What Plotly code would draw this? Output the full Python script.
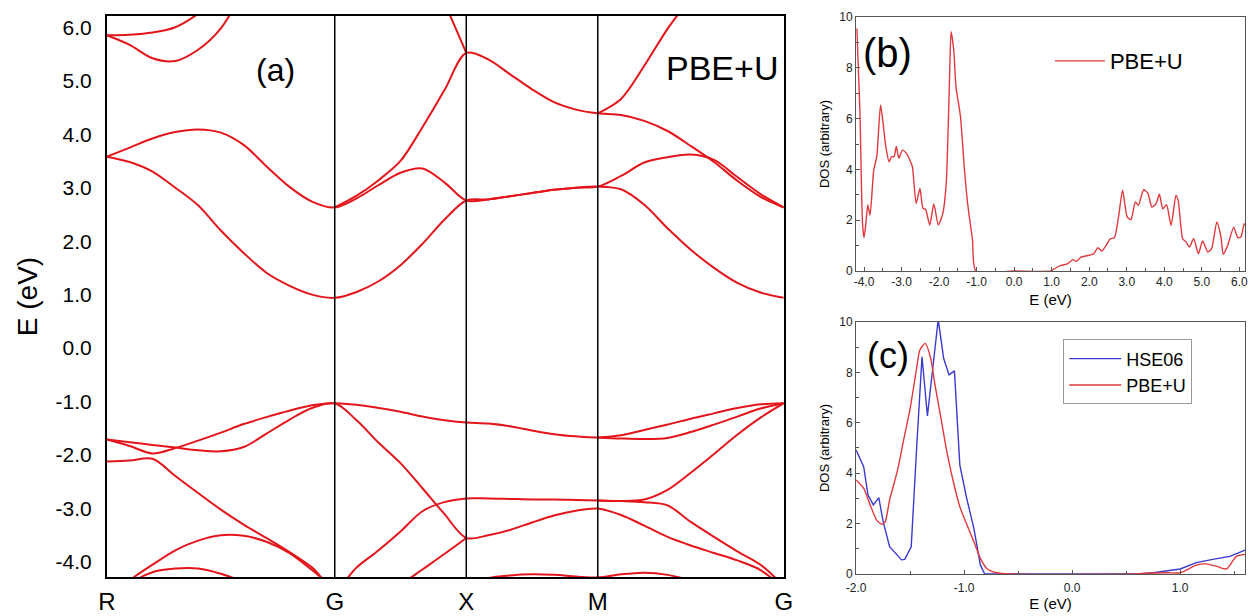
import plotly.graph_objects as go

# ---------------- Panel (a): band structure ----------------
K_POINTS = [0.0, 0.866, 1.366, 1.866, 2.573]
K_LABELS = ["R", "G", "X", "M", "G"]
E_TICKS_A = [6, 5, 4, 3, 2, 1, 0, -1, -2, -3, -4]
E_LABELS_A = ["6.0", "5.0", "4.0", "3.0", "2.0", "1.0", "0.0", "-1.0", "-2.0", "-3.0", "-4.0"]

# k sample positions along R-G-X-M-G (31 samples)
K_GRID = [0.0, 0.0866, 0.1732, 0.2598, 0.3464, 0.433, 0.5196, 0.6062, 0.6928, 0.7794, 0.866,
          0.9493, 1.0327, 1.116, 1.1993, 1.2827, 1.366,
          1.4493, 1.5327, 1.616, 1.6993, 1.7827, 1.866,
          1.9544, 2.0428, 2.1312, 2.2195, 2.3079, 2.3963, 2.4847, 2.573]

N = None
CB1 = [3.58, 3.48, 3.30, 3.00, 2.67, 2.20, 1.78, 1.41, 1.17, 1.00, 0.94,
       1.05, 1.25, 1.55, 1.95, 2.40, 2.76,
       2.78, 2.84, 2.90, 2.96, 3.00, 3.02,
       2.97, 2.68, 2.24, 1.84, 1.50, 1.22, 1.04, 0.94]
CB2 = [3.58, 3.75, 3.92, 4.04, 4.09, 4.03, 3.80, 3.40, 3.02, 2.74, 2.63,
       2.80, 3.05, 3.28, 3.36, 3.10, 2.76,
       2.78, 2.84, 2.90, 2.96, 3.00, 3.02,
       3.22, 3.47, 3.57, 3.62, 3.52, 3.20, 2.88, 2.63]
CB3 = [N, N, N, N, N, N, N, N, N, N, 2.63,
       2.85, 3.14, 3.50, 4.13, 4.82, 5.52,
       5.40, 5.12, 4.84, 4.60, 4.46, 4.39,
       4.36, 4.25, 4.06, 3.78, 3.48, 3.13, 2.83, 2.63]
CB4 = [N] * 22 + [4.39, 4.66, 5.28, 5.97, 6.55, N, N, N, N]
CB5 = [N] * 14 + [7.40, 6.47, 5.52] + [N] * 14
CB6 = [5.85, 5.86, 5.90, 6.00, 6.25, 6.60] + [N] * 25
CB7 = [5.85, 5.67, 5.42, 5.37, 5.58, 5.98, 6.70] + [N] * 24

VB1 = [-1.71, -1.83, -1.97, -1.87, -1.73, -1.58, -1.42, -1.29, -1.17, -1.07, -1.03,
       -1.06, -1.12, -1.19, -1.28, -1.35, -1.39,
       -1.41, -1.46, -1.54, -1.61, -1.65, -1.67,
       -1.63, -1.53, -1.43, -1.32, -1.22, -1.12, -1.05, -1.03]
VB1B = [N] * 22 + [-1.67, -1.69, -1.70, -1.68, -1.57, -1.43, -1.28, -1.13, -1.03]
VB2 = [-1.71, -1.76, -1.81, -1.86, -1.91, -1.93, -1.85, -1.60, -1.34, -1.12, -1.03,
       -1.35, -1.77, -2.15, -2.62, -3.10, -3.55,
       -3.50, -3.40, -3.26, -3.13, -3.04, -3.00,
       -3.12, -3.32, -3.53, -3.69, -3.83, -3.97, -4.15, -4.50]
VB3 = [-2.12, -2.10, -2.07, -2.39, -2.71, -3.02, -3.30, -3.55, -3.81, -4.10, -4.50,
       -4.10, -3.78, -3.43, -3.05, -2.88, -2.81,
       -2.81, -2.82, -2.83, -2.83, -2.84, -2.85,
       -2.86, -2.83, -2.65, -2.33, -1.98, -1.62, -1.30, -1.03]
VB4 = [N] * 22 + [-2.85, -2.86, -2.88, -2.94, -3.25, -3.53, -3.80, -4.05, -4.45]
VB5 = [-4.90, -4.35, -4.05, -3.78, -3.60, -3.50, -3.51, -3.62, -3.83, -4.15, -4.50] + [N] * 20
VB6 = [-4.90, -4.42, -4.19, -4.12, -4.12, -4.22, -4.38, -4.70] + [N] * 23
VB7 = [N] * 12 + [-4.75, -4.43, -4.14, -3.85, -3.55] + [N] * 14
VB8 = [N] * 16 + [-4.45, -4.30, -4.25, -4.23, -4.24, -4.27, -4.29,
                  -4.23, -4.20, -4.24, -4.35, -4.55, N, N, N]

BANDS = [CB1, CB2, CB3, CB4, CB5, CB6, CB7, VB1, VB1B, VB2, VB3, VB4, VB5, VB6, VB7, VB8]

# ---------------- Panel (b): PBE+U DOS ----------------
E_TICKS_B = [-4, -3, -2, -1, 0, 1, 2, 3, 4, 5, 6]
E_LABELS_B = ["-4.0", "-3.0", "-2.0", "-1.0", "0.0", "1.0", "2.0", "3.0", "4.0", "5.0", "6.0"]
E_B = [-4.19, -4.11, -4.04, -4.00, -3.95, -3.90, -3.84, -3.74, -3.66, -3.56, -3.49, -3.42,
       -3.33, -3.27, -3.20, -3.14, -3.07, -2.98, -2.87, -2.76, -2.71, -2.61, -2.51, -2.43,
       -2.36, -2.25, -2.14, -2.02, -1.90, -1.81, -1.72, -1.68, -1.61, -1.55, -1.43, -1.33,
       -1.24, -1.11, -1.02, 0.00, 0.98, 1.07, 1.25, 1.43, 1.56, 1.65, 1.78, 1.87, 2.00,
       2.12, 2.23, 2.33, 2.45, 2.56, 2.67, 2.78, 2.89, 3.01, 3.11, 3.23, 3.31, 3.45, 3.56,
       3.67, 3.78, 3.87, 3.96, 4.06, 4.18, 4.31, 4.37, 4.49, 4.58, 4.67, 4.78, 4.91, 5.02,
       5.16, 5.26, 5.40, 5.51, 5.57, 5.69, 5.85, 5.96, 6.04, 6.13, 6.22]
DOS_B = [9.55, 6.34, 1.88, 1.31, 1.88, 2.60, 2.20, 3.98, 4.50, 6.54, 5.80, 4.90,
         4.30, 4.50, 4.50, 4.90, 4.44, 4.76, 4.63, 4.30, 4.10, 2.66, 3.25, 2.47,
         2.43, 1.81, 2.64, 1.81, 2.27, 3.45, 7.65, 9.42, 8.70, 7.26, 6.08, 4.10,
         2.66, 1.22, 0.00, 0.00, 0.00, 0.09, 0.22, 0.29, 0.45, 0.38, 0.55, 0.58, 0.62,
         0.68, 0.92, 0.79, 1.01, 1.27, 1.31, 2.13, 3.18, 2.13, 2.02, 2.72, 2.59, 3.20, 3.07,
         2.52, 2.65, 3.02, 2.45, 2.61, 1.80, 2.98, 2.78, 1.27, 1.14, 0.94, 1.27, 0.68, 1.18,
         0.75, 0.88, 1.93, 1.34, 0.66, 1.01, 1.73, 1.31, 1.34, 1.86, 1.60]

# ---------------- Panel (c): HSE06 vs PBE+U ----------------
E_TICKS_C = [-2, -1, 0, 1]
E_LABELS_C = ["-2.0", "-1.0", "0.0", "1.0"]
E_HSE = [-2.00, -1.93, -1.89, -1.84, -1.79, -1.75, -1.69, -1.62, -1.58, -1.55, -1.49, -1.44,
         -1.39, -1.34, -1.29, -1.24, -1.19, -1.14, -1.09, -1.04, -0.98, -0.91, -0.85, -0.81,
         0.60, 0.75, 1.00, 1.15, 1.30, 1.46, 1.60]
DOS_HSE = [4.92, 4.26, 3.13, 2.74, 3.03, 2.08, 1.08, 0.75, 0.56, 0.58, 1.08, 4.99,
           8.62, 6.27, 8.29, 10.1, 8.56, 7.90, 8.06, 4.33, 3.07, 1.81, 0.36, 0.00,
           0.00, 0.05, 0.20, 0.45, 0.58, 0.70, 0.95]
E_PBE = [-2.00, -1.93, -1.87, -1.81, -1.76, -1.73, -1.69, -1.62, -1.56, -1.50, -1.44, -1.41,
         -1.36, -1.31, -1.27, -1.22, -1.16, -1.10, -1.04, -0.98, -0.91, -0.85, -0.79, -0.70,
         -0.57, 0.60, 0.70, 0.88, 1.00, 1.15, 1.24, 1.34, 1.43, 1.52, 1.60]
DOS_PBE = [3.73, 3.40, 2.74, 2.14, 1.97, 2.08, 2.94, 4.06, 5.32, 6.57, 8.16, 8.89,
           9.15, 8.56, 7.50, 6.31, 4.85, 3.66, 2.67, 2.01, 1.28, 0.62, 0.22, 0.05,
           0.00, 0.00, 0.03, 0.05, 0.05, 0.35, 0.40, 0.30, 0.20, 0.70, 0.78]

BAND_RED = "#e3151b"
DOS_RED = "#e0383c"
HSE_BLUE = "#3a3ad0"

fig = go.Figure()

for band in BANDS:
    fig.add_trace(go.Scatter(x=K_GRID, y=band, mode="lines", xaxis="x", yaxis="y",
                             line=dict(color=BAND_RED, width=2, shape="spline", smoothing=0.9),
                             showlegend=False, hoverinfo="skip"))

fig.add_trace(go.Scatter(x=E_B, y=DOS_B, mode="lines", name="PBE+U", xaxis="x2", yaxis="y2",
                         line=dict(color=DOS_RED, width=1.4, shape="spline", smoothing=0.6),
                         legend="legend"))
fig.add_trace(go.Scatter(x=E_HSE, y=DOS_HSE, mode="lines", name="HSE06", xaxis="x3", yaxis="y3",
                         line=dict(color=HSE_BLUE, width=1.4), legend="legend2"))
fig.add_trace(go.Scatter(x=E_PBE, y=DOS_PBE, mode="lines", name="PBE+U", xaxis="x3", yaxis="y3",
                         line=dict(color=DOS_RED, width=1.4, shape="spline", smoothing=0.6),
                         legend="legend2"))

shapes = [dict(type="line", x0=kv, x1=kv, y0=0, y1=1, xref="x", yref="y domain",
               line=dict(color="black", width=1.5)) for kv in K_POINTS[1:4]]

FONT = "Liberation Sans, Arial, sans-serif"
small_axis = dict(showline=True, mirror=True, linecolor="#555", linewidth=1,
                  ticks="inside", ticklen=4, tickcolor="#555", showgrid=False, zeroline=False,
                  tickfont=dict(size=12, color="#222", family=FONT), automargin=False,
                  ticklabeloverflow="allow")

fig.update_layout(
    width=1248, height=616,
    margin=dict(l=0, r=0, t=0, b=0),
    paper_bgcolor="white", plot_bgcolor="white",
    font=dict(family=FONT, color="black"),
    template="none",
    shapes=shapes,
    xaxis=dict(domain=[0.0857, 0.628], range=[0, 2.573], showline=True, mirror=True,
               linecolor="black", linewidth=2, tickvals=K_POINTS, ticktext=K_LABELS,
               ticks="outside", ticklen=2, tickcolor="rgba(0,0,0,0)", showgrid=False,
               zeroline=False, tickfont=dict(size=24, color="black"), automargin=False),
    yaxis=dict(domain=[0.0633, 0.974], range=[-4.28, 6.21], showline=True, mirror=True,
               linecolor="black", linewidth=2, tickvals=E_TICKS_A, ticktext=E_LABELS_A,
               ticks="outside", ticklen=9, tickcolor="rgba(0,0,0,0)", showgrid=False,
               zeroline=False, tickfont=dict(size=21, color="black"),
               title=dict(text="E (eV)", font=dict(size=28), standoff=10), automargin=False),
    xaxis2=dict(small_axis, domain=[0.686, 0.9976], range=[-4.21, 6.15], anchor="y2",
                tickvals=E_TICKS_B, ticktext=E_LABELS_B,
                minor=dict(ticks="inside", ticklen=3, tickmode="linear", tick0=0, dtick=0.5,
                           tickcolor="#555"),
                title=dict(text="E (eV)", font=dict(size=15), standoff=6)),
    yaxis2=dict(small_axis, domain=[0.560, 0.9724], range=[0, 10], anchor="x2", dtick=2,
                minor=dict(ticks="inside", ticklen=3, dtick=1, tickcolor="#555"),
                title=dict(text="DOS (arbitrary)", font=dict(size=13), standoff=6)),
    xaxis3=dict(small_axis, domain=[0.686, 0.9976], range=[-2, 1.6], anchor="y3",
                tickvals=E_TICKS_C, ticktext=E_LABELS_C, ticklabelstandoff=3,
                minor=dict(ticks="inside", ticklen=3, tickmode="linear", tick0=0, dtick=0.5,
                           tickcolor="#555"),
                title=dict(text="E (eV)", font=dict(size=15), standoff=2)),
    yaxis3=dict(small_axis, domain=[0.0682, 0.4773], range=[0, 10], anchor="x3", dtick=2,
                minor=dict(ticks="inside", ticklen=3, dtick=1, tickcolor="#555"),
                title=dict(text="DOS (arbitrary)", font=dict(size=13), standoff=6)),
    legend=dict(x=0.8413, y=0.935, xanchor="left", yanchor="top", bgcolor="rgba(0,0,0,0)",
                borderwidth=0, itemwidth=50, font=dict(size=22, color="black")),
    legend2=dict(x=0.852, y=0.449, xanchor="left", yanchor="top", bgcolor="white",
                 bordercolor="#999", borderwidth=1, itemwidth=52,
                 font=dict(size=18, color="black"), tracegroupgap=0),
    annotations=[
        dict(text="(a)", x=0.2204, y=0.886, xref="paper", yref="paper", showarrow=False,
             xanchor="center", yanchor="middle", font=dict(size=32)),
        dict(text="PBE+U", x=0.625, y=0.8896, xref="paper", yref="paper", showarrow=False,
             xanchor="right", yanchor="middle", font=dict(size=34)),
        dict(text="(b)", x=0.7115, y=0.914, xref="paper", yref="paper", showarrow=False,
             xanchor="center", yanchor="middle", font=dict(size=40)),
        dict(text="(c)", x=0.7115, y=0.4237, xref="paper", yref="paper", showarrow=False,
             xanchor="center", yanchor="middle", font=dict(size=36)),
    ],
)

fig.write_html("out.html", config={"displayModeBar": False},
               post_script="document.body.style.margin='0px';document.body.style.overflow='hidden';")
